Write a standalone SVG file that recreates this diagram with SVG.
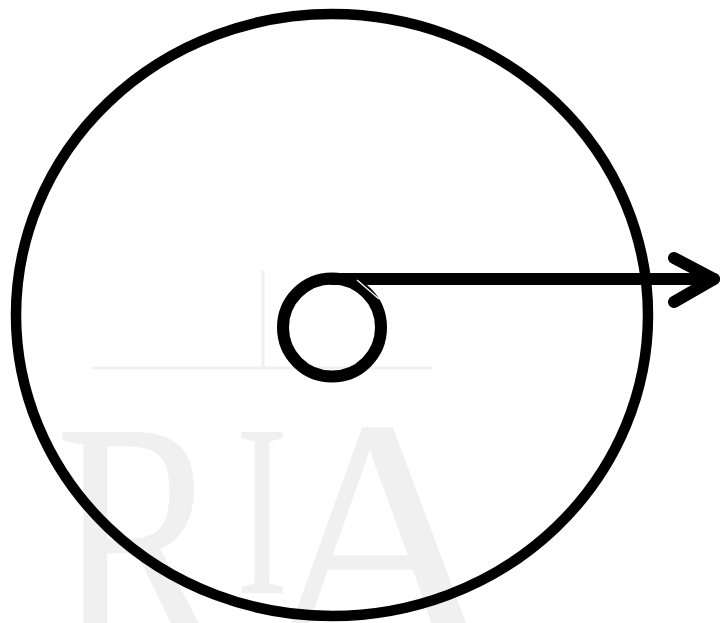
<svg xmlns="http://www.w3.org/2000/svg" width="720" height="623" viewBox="0 0 720 623">
  <style>
    .outline { fill: none; stroke: #000; stroke-linecap: round; stroke-linejoin: round; }
    .wm { fill: #f0f0f0; font-family: "Liberation Serif", "Times New Roman", serif; }
    .wmline { stroke: #efefef; stroke-width: 3; fill: none; }
  </style>
  <rect width="720" height="623" fill="#fff"/>
  <g id="watermark">
    <line class="wmline" x1="263" y1="271" x2="263" y2="368"/>
    <line class="wmline" x1="93" y1="368" x2="432" y2="368"/>
    <text class="wm" x="55" y="648" font-size="330" textLength="168" lengthAdjust="spacingAndGlyphs">R</text>
    <text class="wm" x="262" y="593" font-size="246" text-anchor="middle" textLength="52" lengthAdjust="spacingAndGlyphs">I</text>
    <text class="wm" x="380" y="645" font-size="330" text-anchor="middle">A</text>
  </g>
  <g id="outer-circle">
    <ellipse class="outline" cx="332" cy="315" rx="316" ry="301" stroke-width="10.5"/>
  </g>
  <g id="inner-circle">
    <circle class="outline" cx="332" cy="327.5" r="49" stroke-width="12"/>
  </g>
  <g id="connectors">
    <path class="outline" d="M332 279 H714" stroke-width="12"/>
    <path class="outline" d="M674 258 L714 279 L674 302" stroke-width="12"/>
    <line x1="357" y1="280" x2="379" y2="299" stroke="#fff" stroke-width="1.3"/>
  </g>
</svg>
